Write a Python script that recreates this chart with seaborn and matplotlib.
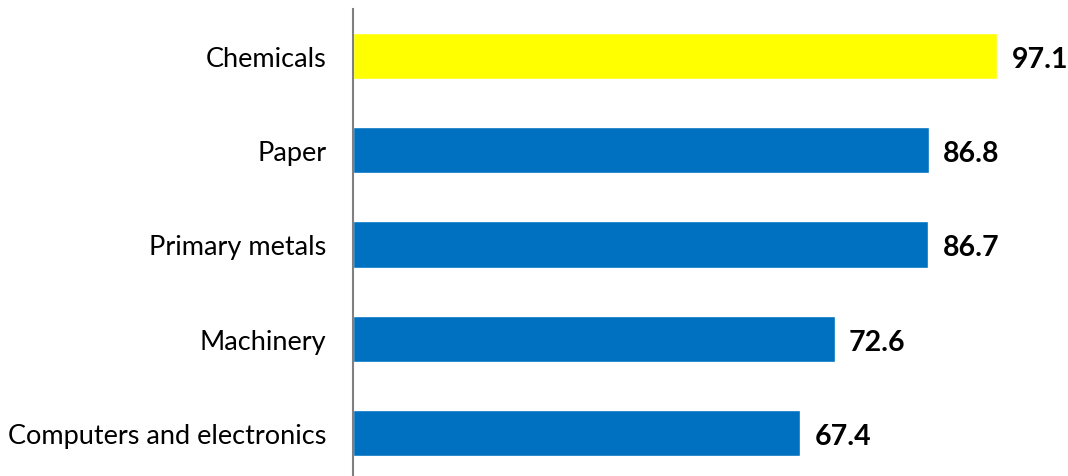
import matplotlib
matplotlib.use("Agg")
import matplotlib.pyplot as plt
import seaborn as sns
import pandas as pd

categories = ["Chemicals", "Paper", "Primary metals", "Machinery", "Computers and electronics"]
values = [97.1, 86.8, 86.7, 72.6, 67.4]
bar_colors = ["#FFFF00", "#0070C0", "#0070C0", "#0070C0", "#0070C0"]

sns.set_theme(style="white")
plt.rcParams["font.family"] = ["Lato", "DejaVu Sans"]

df = pd.DataFrame({"industry": categories, "value": values})

fig = plt.figure(figsize=(10.68, 4.77), dpi=100)
ax = fig.add_axes([353 / 1068, -4 / 477, 715 / 1068, 471 / 477])

sns.barplot(data=df, x="value", y="industry", hue="industry", palette=bar_colors,
            order=categories, hue_order=categories, width=0.49, legend=False,
            saturation=1, ax=ax)

ax.set_xlim(0, 107.8)
ax.set_ylim(4.5, -0.5)
ax.set_xlabel("")
ax.set_ylabel("")
ax.set_xticks([])
for side in ["top", "right", "bottom"]:
    ax.spines[side].set_visible(False)
ax.spines["left"].set_color("#808080")
ax.spines["left"].set_linewidth(1.5)
ax.tick_params(axis="y", length=0, pad=19, labelsize=19.5, labelcolor="black")

for i, v in enumerate(values):
    ax.text(v + 2.2, i + 0.03, f"{v:.1f}", va="center", ha="left",
            fontsize=20.5, fontweight="bold", color="black")

fig.savefig("out.png", dpi=100)
